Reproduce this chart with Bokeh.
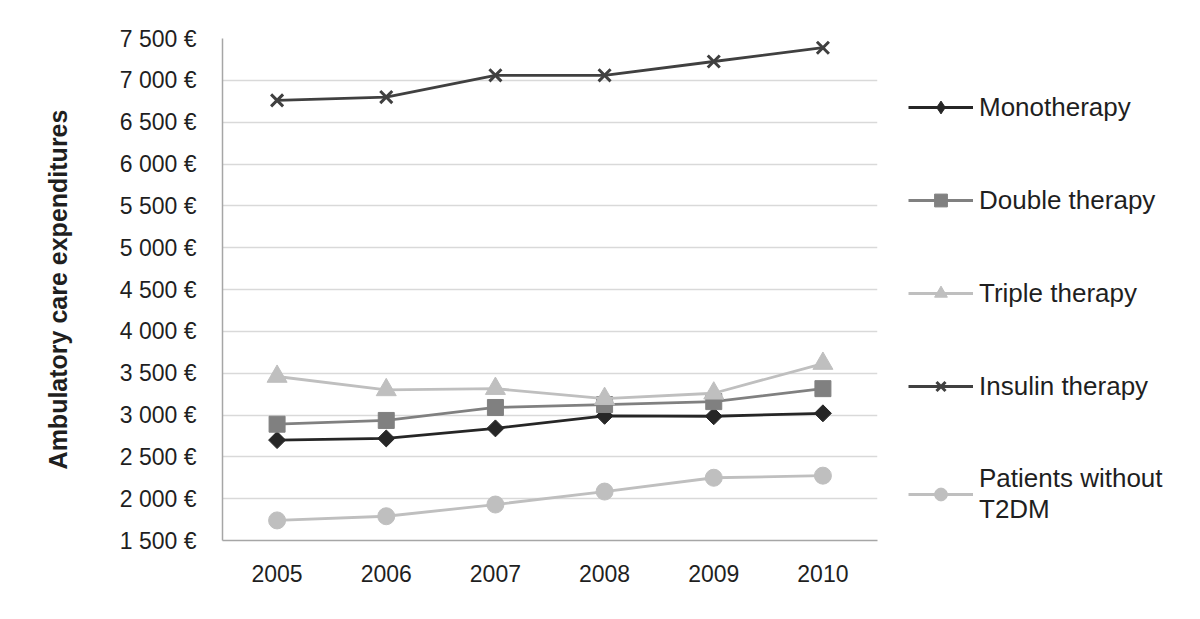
import math
from bokeh.plotting import figure
from bokeh.models import FactorRange, Range1d, FixedTicker, Legend, LegendItem
from bokeh.embed import file_html
from bokeh.resources import INLINE

years = ["2005", "2006", "2007", "2008", "2009", "2010"]
monotherapy = [2700, 2720, 2840, 2990, 2985, 3020]
double_therapy = [2890, 2935, 3090, 3125, 3160, 3315]
triple_therapy = [3460, 3300, 3315, 3195, 3260, 3615]
insulin_therapy = [6760, 6800, 7060, 7060, 7225, 7390]
without_t2dm = [1740, 1790, 1930, 2085, 2250, 2275]

y_ticks = [1500, 2000, 2500, 3000, 3500, 4000, 4500, 5000, 5500, 6000, 6500, 7000, 7500]
y_tick_labels = ["1 500 €", "2 000 €", "2 500 €", "3 000 €", "3 500 €", "4 000 €", "4 500 €",
                 "5 000 €", "5 500 €", "6 000 €", "6 500 €", "7 000 €", "7 500 €"]
y_title = "Ambulatory care expenditures"

FONT = "Liberation Sans"
TXT = "#1f1f1f"

p = figure(frame_width=655, frame_height=502,
           x_range=FactorRange(*years), y_range=Range1d(1500, 7500),
           output_backend="svg", toolbar_location=None,
           min_border_left=222, min_border_right=315, min_border_top=38, min_border_bottom=71)
p.outline_line_color = None
p.background_fill_color = "white"

# axes
p.yaxis.ticker = FixedTicker(ticks=y_ticks)
p.yaxis.major_label_overrides = {t: l for t, l in zip(y_ticks, y_tick_labels)}
p.yaxis.axis_label = y_title
p.yaxis.axis_label_text_font = FONT
p.yaxis.axis_label_text_font_style = "bold"
p.yaxis.axis_label_text_font_size = "25px"
p.yaxis.axis_label_text_color = TXT
p.yaxis.axis_label_standoff = 45
for ax in (p.xaxis[0], p.yaxis[0]):
    ax.major_tick_line_color = None
    ax.minor_tick_line_color = None
    ax.axis_line_color = "#a6a6a6"
    ax.axis_line_width = 1.5
    ax.major_label_text_font = FONT
    ax.major_label_text_font_size = "23px"
    ax.major_label_text_color = TXT
p.yaxis.major_label_standoff = 20
p.xaxis.major_label_standoff = 18
p.xgrid.grid_line_color = None
p.ygrid.grid_line_color = "#d9d9d9"
p.ygrid.grid_line_width = 1.5

series = [
    ("Monotherapy", monotherapy, "#262626", "diamond"),
    ("Double therapy", double_therapy, "#808080", "square"),
    ("Triple therapy", triple_therapy, "#bfbfbf", "triangle"),
    ("Insulin therapy", insulin_therapy, "#404040", "x"),
    ("Patients without\nT2DM", without_t2dm, "#bfbfbf", "circle"),
]

items = []
for name, vals, color, marker in series:
    l = p.line(years, vals, line_color=color, line_width=2.8)
    if marker == "x":
        s = p.scatter(years, vals, marker="x", size=17, line_color=color, line_width=3)
        legend_rs = [l, s]
    elif marker == "diamond":
        s = p.scatter(years, vals, marker="square", angle=math.pi / 4, size=12,
                      fill_color=color, line_color=color)
        # hidden twin used only for the legend swatch (legend ignores marker angle)
        lg = p.scatter(years, vals, marker="diamond", size=15,
                       fill_color=color, line_color=color, visible=False)
        legend_rs = [l, lg]
    elif marker == "square":
        s = p.scatter(years, vals, marker="square", size=16, fill_color=color, line_color=color)
        legend_rs = [l, s]
    elif marker == "triangle":
        s = p.scatter(years, vals, marker="triangle", size=20, fill_color=color, line_color=color)
        legend_rs = [l, s]
    else:
        s = p.scatter(years, vals, marker="circle", size=17, fill_color=color, line_color=color)
        legend_rs = [l, s]
    items.append(LegendItem(label=name, renderers=legend_rs))

legend = Legend(items=items)
legend.border_line_color = None
legend.background_fill_alpha = 0
legend.inactive_fill_alpha = 0
legend.label_text_font = FONT
legend.label_text_font_size = "26px"
legend.label_text_color = TXT
legend.glyph_width = 65
legend.glyph_height = 32
legend.label_height = 26
legend.label_standoff = 6
legend.spacing = 61
legend.padding = 0
legend.margin = 0
legend.location = (31, 15)
p.add_layout(legend, "right")

open("out.html", "w").write(file_html(p, INLINE))
